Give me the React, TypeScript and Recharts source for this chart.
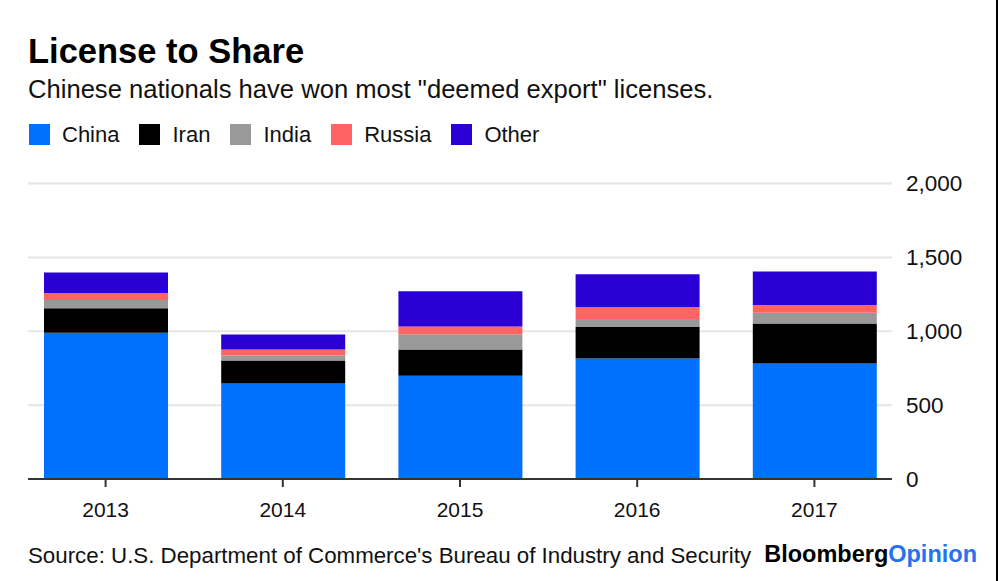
import React from 'react';
import { BarChart, Bar, XAxis, YAxis, CartesianGrid } from 'recharts';

// licenses granted per year
const years = ['2013', '2014', '2015', '2016', '2017'];
const china = [990, 647, 698, 815, 782];
const iran = [165, 155, 178, 214, 270];
const india = [56, 34, 104, 54, 74];
const russia = [48, 40, 52, 81, 52];
const other = [138, 102, 238, 221, 227];
const yTicks = [0, 500, 1000, 1500, 2000];

const series = [
  { key: 'China', color: '#0070FF' },
  { key: 'Iran', color: '#000000' },
  { key: 'India', color: '#999999' },
  { key: 'Russia', color: '#FF6363' },
  { key: 'Other', color: '#2A00D5' },
];

const data = years.map((year, i) => ({
  year,
  China: china[i],
  Iran: iran[i],
  India: india[i],
  Russia: russia[i],
  Other: other[i],
}));

const FONT = '"Liberation Sans", Arial, Helvetica, sans-serif';

const LegendRow = () => (
  <div style={{ display: 'flex', alignItems: 'center', fontFamily: FONT, fontSize: 22, lineHeight: '22px', color: '#111' }}>
    {series.map((s, i) => (
      <div key={s.key} style={{ display: 'flex', alignItems: 'center', marginRight: i < series.length - 1 ? 20 : 0 }}>
        <div style={{ width: 21, height: 21, background: s.color, marginRight: 12 }} />
        <span>{s.key}</span>
      </div>
    ))}
  </div>
);

export default function App() {
  return (
    <div style={{ position: 'absolute', left: 0, top: 0, width: 1000, height: 581, background: '#fff', overflow: 'hidden' }}>
      <BarChart
        width={1000}
        height={581}
        data={data}
        margin={{ top: 183.5, right: 28, left: 28, bottom: 42 }}
        style={{ position: 'absolute', left: 0, top: 0 }}
      >
        <CartesianGrid vertical={false} stroke="#e6e6e6" strokeWidth={2} />
        <XAxis
          dataKey="year"
          height={60}
          padding={{ left: -11, right: -11 }}
          axisLine={{ stroke: '#333', strokeWidth: 2 }}
          tickLine={{ stroke: '#333', strokeWidth: 2 }}
          tickSize={8}
          tickMargin={15.5}
          tick={{ fill: '#111', fontSize: 21, fontFamily: FONT }}
        />
        <YAxis
          orientation="right"
          width={80}
          domain={[0, 2000]}
          ticks={yTicks}
          axisLine={false}
          tickLine={false}
          tickSize={0}
          tickMargin={14}
          tickFormatter={(v: number) => v.toLocaleString('en-US')}
          tick={{ fill: '#111', fontSize: 22.5, fontFamily: FONT, textAnchor: 'start' }}
        />
        {series.map(s => (
          <Bar key={s.key} dataKey={s.key} stackId="a" fill={s.color} barSize={124} isAnimationActive={false} />
        ))}
      </BarChart>

      <div style={{ position: 'absolute', left: 28, top: 34, fontFamily: FONT, fontSize: 34.5, fontWeight: 700, lineHeight: '34.5px', color: '#000' }}>
        License to Share
      </div>
      <div style={{ position: 'absolute', left: 28, top: 77, fontFamily: FONT, fontSize: 25.6, lineHeight: '25.6px', color: '#111' }}>
        Chinese nationals have won most "deemed export" licenses.
      </div>
      <div style={{ position: 'absolute', left: 29, top: 123.5 }}>
        <LegendRow />
      </div>
      <div style={{ position: 'absolute', left: 28, top: 545, fontFamily: FONT, fontSize: 22.3, lineHeight: '22.3px', color: '#111' }}>
        Source: U.S. Department of Commerce's Bureau of Industry and Security
      </div>
      <div style={{ position: 'absolute', right: 23, top: 543, fontFamily: FONT, fontSize: 23.5, lineHeight: '23.5px', fontWeight: 700 }}>
        <span style={{ color: '#000' }}>Bloomberg</span>
        <span style={{ color: '#2671F0' }}>Opinion</span>
      </div>
      <div style={{ position: 'absolute', left: 996, top: 0, width: 2, height: 581, background: '#000' }} />
    </div>
  );
}
